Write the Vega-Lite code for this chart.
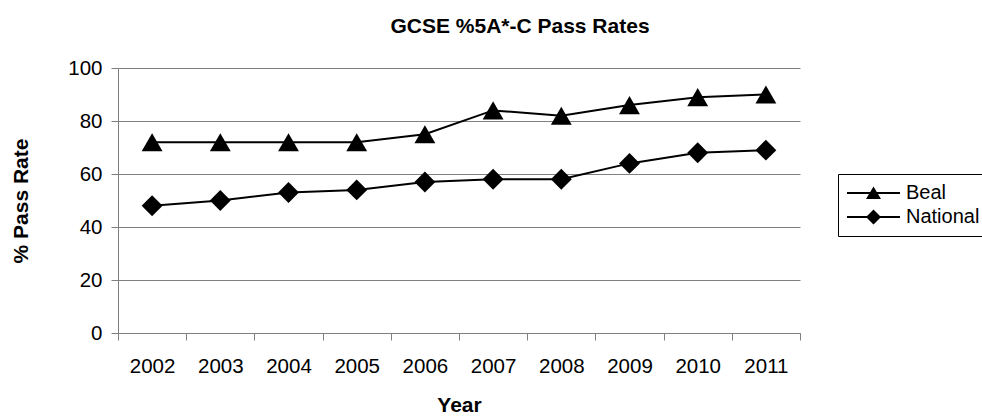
{
  "$schema": "https://vega.github.io/schema/vega-lite/v6.json",
  "width": 682,
  "height": 265,
  "autosize": {"type": "none"},
  "padding": {"left": 118, "top": 68, "right": 182, "bottom": 83},
  "background": "white",
  "config": {"view": {"stroke": null}, "font": "Liberation Sans"},
  "title": {
    "text": "GCSE %5A*-C Pass Rates",
    "font": "Liberation Sans",
    "fontSize": 21,
    "fontWeight": "bold",
    "color": "black",
    "anchor": "middle",
    "dx": 61,
    "baseline": "alphabetic",
    "offset": 4
  },
  "data": {
    "values": [
      {"year": "2002", "series": "Beal", "value": 72},
      {"year": "2003", "series": "Beal", "value": 72},
      {"year": "2004", "series": "Beal", "value": 72},
      {"year": "2005", "series": "Beal", "value": 72},
      {"year": "2006", "series": "Beal", "value": 75},
      {"year": "2007", "series": "Beal", "value": 84},
      {"year": "2008", "series": "Beal", "value": 82},
      {"year": "2009", "series": "Beal", "value": 86},
      {"year": "2010", "series": "Beal", "value": 89},
      {"year": "2011", "series": "Beal", "value": 90},
      {"year": "2002", "series": "National", "value": 48},
      {"year": "2003", "series": "National", "value": 50},
      {"year": "2004", "series": "National", "value": 53},
      {"year": "2005", "series": "National", "value": 54},
      {"year": "2006", "series": "National", "value": 57},
      {"year": "2007", "series": "National", "value": 58},
      {"year": "2008", "series": "National", "value": 58},
      {"year": "2009", "series": "National", "value": 64},
      {"year": "2010", "series": "National", "value": 68},
      {"year": "2011", "series": "National", "value": 69}
    ]
  },
  "encoding": {
    "x": {
      "field": "year",
      "type": "ordinal",
      "scale": {"paddingInner": 0, "paddingOuter": 0},
      "axis": {
        "title": "Year",
        "titleFont": "Liberation Sans",
        "titleFontSize": 21,
        "titleFontWeight": "bold",
        "titleColor": "black",
        "titlePadding": 18,
        "labelFont": "Liberation Sans",
        "labelFontSize": 20.5,
        "labelColor": "black",
        "labelPadding": 16,
        "labelAngle": 0,
        "tickBand": "extent",
        "tickSize": 7,
        "tickColor": "#808080",
        "domainColor": "#808080",
        "grid": false
      }
    },
    "y": {
      "field": "value",
      "type": "quantitative",
      "scale": {"domain": [0, 100], "nice": false},
      "axis": {
        "title": "% Pass Rate",
        "titleFont": "Liberation Sans",
        "titleFontSize": 21,
        "titleFontWeight": "bold",
        "titleColor": "black",
        "titlePadding": 36,
        "values": [0, 20, 40, 60, 80, 100],
        "labelFont": "Liberation Sans",
        "labelFontSize": 20.5,
        "labelColor": "black",
        "labelPadding": 9,
        "tickSize": 7,
        "tickColor": "#808080",
        "domainColor": "#808080",
        "grid": true,
        "gridColor": "#808080",
        "gridOpacity": 1
      }
    }
  },
  "layer": [
    {
      "mark": {"type": "line", "color": "black", "strokeWidth": 2},
      "encoding": {"detail": {"field": "series", "type": "nominal"}}
    },
    {
      "mark": {"type": "point", "filled": true, "color": "black", "opacity": 1, "size": 435},
      "encoding": {
        "shape": {
          "field": "series",
          "type": "nominal",
          "scale": {"domain": ["Beal", "National"], "range": ["triangle-up", "diamond"]},
          "legend": null
        }
      }
    },
    {
      "mark": {"type": "point", "filled": true, "color": "black", "opacity": 0, "size": 400},
      "encoding": {
        "shape": {
          "field": "series",
          "type": "nominal",
          "scale": {
            "domain": ["Beal", "National"],
            "range": [
              "M-1,-0.1H4.3V0.1H-1ZM0.9,0.6L1.65,-0.65L2.4,0.6Z",
              "M-1,-0.1H4.3V0.1H-1ZM0.9,0L1.65,-0.75L2.4,0L1.65,0.75Z"
            ]
          },
          "legend": {
            "title": null,
            "orient": "none",
            "legendX": 720,
            "legendY": 106,
            "labelFont": "Liberation Sans",
            "labelFontSize": 20,
            "labelColor": "black",
            "symbolSize": 400,
            "symbolFillColor": "black",
            "symbolStrokeColor": "black",
            "symbolStrokeWidth": 0,
            "symbolOpacity": 1,
            "labelOffset": 39,
            "padding": 9,
            "rowPadding": 4,
            "strokeColor": "black",
            "fillColor": "white"
          }
        }
      }
    }
  ],
  "resolve": {"scale": {"shape": "independent"}}
}
